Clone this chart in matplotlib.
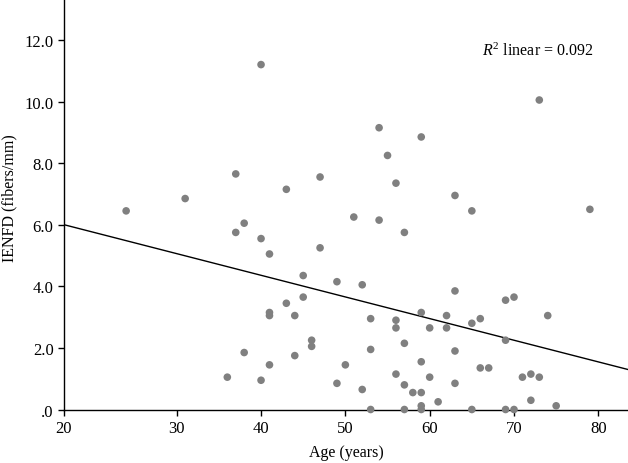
import numpy as np
import matplotlib
matplotlib.use("Agg")
import matplotlib.pyplot as plt

plt.rcParams['font.family'] = ['Liberation Serif', 'DejaVu Serif']
plt.rcParams['mathtext.fontset'] = 'custom'
plt.rcParams['mathtext.rm'] = 'Liberation Serif'
plt.rcParams['mathtext.it'] = 'Liberation Serif:italic'

# values
age = [24, 31, 37, 40, 43, 47, 38, 37, 40, 41, 47, 45, 45, 43, 41, 41, 44, 46, 46, 38,
       44, 41, 36, 40, 73, 54, 59, 55, 56, 63, 65, 79, 51, 54, 57, 49, 52, 63, 69, 70,
       59, 62, 53, 56, 56, 60, 62, 65, 66, 74, 57, 69, 53, 63, 50, 59, 66, 67, 56, 60,
       71, 72, 73, 49, 57, 63, 52, 58, 59, 61, 72, 59, 75, 53, 57, 59, 65, 69, 70]
ienfd = [6.45, 6.85, 7.65, 11.2, 7.15, 7.55, 6.05, 5.75, 5.55, 5.05, 5.25, 4.35, 3.65, 3.45,
         3.15, 3.05, 3.05, 2.25, 2.05, 1.85, 1.75, 1.45, 1.05, 0.95, 10.05, 9.15, 8.85, 8.25,
         7.35, 6.95, 6.45, 6.5, 6.25, 6.15, 5.75, 4.15, 4.05, 3.85, 3.55, 3.65, 3.15, 3.05,
         2.95, 2.9, 2.65, 2.65, 2.65, 2.8, 2.95, 3.05, 2.15, 2.25, 1.95, 1.9, 1.45, 1.55,
         1.35, 1.35, 1.15, 1.05, 1.05, 1.15, 1.05, 0.85, 0.8, 0.85, 0.65, 0.55, 0.55, 0.25,
         0.3, 0.12, 0.12, 0, 0, 0, 0, 0, 0]

fit_intercept = 7.17
fit_slope = -0.0703
r2_text = r"$R^2$ linear = 0.092"

xticks = [16.63, 30, 40, 50, 60, 70, 80]
xticklabels = ["20", "30", "40", "50", "60", "70", "80"]
yticks = [0, 2, 4, 6, 8, 10, 12]
yticklabels = [".0", "2.0", "4.0", "6.0", "8.0", "10.0", "12.0"]

fig = plt.figure(figsize=(6.28, 4.64), dpi=100)
ax = fig.add_axes([0.1019, 0.1153, 0.8981, 0.8847])

xmin, xmax = 16.63, 83.52
ax.set_xlim(xmin, xmax)
ax.set_ylim(0, 13.33)

ax.scatter(age, ienfd, s=30, color='#808080', edgecolors='none', zorder=3, clip_on=False)

lx = np.array([xmin, xmax])
ax.plot(lx, fit_intercept + fit_slope * lx, color='black', lw=1.0)

ax.text(66.2, 11.65, r2_text, fontsize=11.5, va='center', ha='left')

ax.set_xticks(xticks)
ax.set_xticklabels(xticklabels)
ax.set_yticks(yticks)
ax.set_yticklabels(yticklabels)
ax.tick_params(direction='out', length=4, width=1, labelsize=12, colors='black')

for s in ['top', 'right']:
    ax.spines[s].set_visible(False)
for s in ['left', 'bottom']:
    ax.spines[s].set_linewidth(1)

ax.set_xlabel('Age (years)', fontsize=11.5, labelpad=6)
ax.set_ylabel('IENFD (fibers/mm)', fontsize=11.5)
ax.yaxis.set_label_coords(-0.082, 0.517)

fig.savefig('out.png', dpi=100)
